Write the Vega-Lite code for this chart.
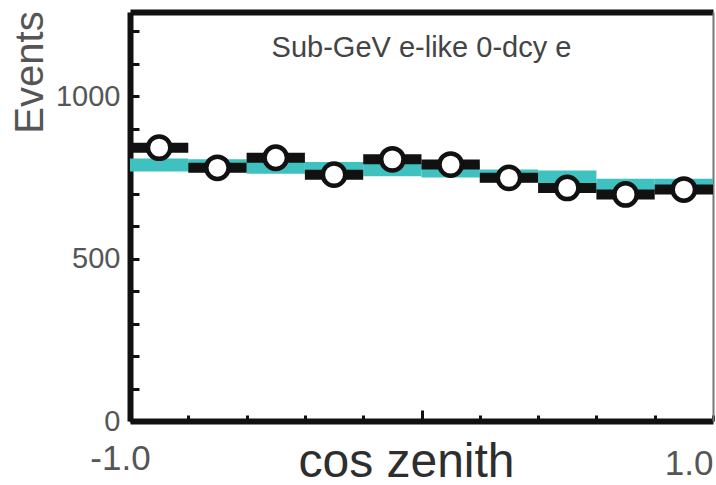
{
  "$schema": "https://vega.github.io/schema/vega-lite/v6.json",
  "width": 583,
  "height": 409,
  "autosize": {"type": "none"},
  "padding": {"left": 130, "top": 12, "right": 3, "bottom": 64},
  "background": "white",
  "config": {
    "view": {"stroke": null},
    "axis": {"grid": false, "labelFont": "Liberation Sans", "titleFont": "Liberation Sans", "titleFontWeight": "normal"},
    "text": {"font": "Liberation Sans"}
  },
  "datasets": {
    "bins": [
      {"lo": -1.0, "hi": -0.8, "c": -0.9, "data": 842, "mc": 789},
      {"lo": -0.8, "hi": -0.6, "c": -0.7, "data": 780, "mc": 786},
      {"lo": -0.6, "hi": -0.4, "c": -0.5, "data": 811, "mc": 782},
      {"lo": -0.4, "hi": -0.2, "c": -0.3, "data": 759, "mc": 778},
      {"lo": -0.2, "hi": 0.0, "c": -0.1, "data": 806, "mc": 774},
      {"lo": 0.0, "hi": 0.2, "c": 0.1, "data": 790, "mc": 770},
      {"lo": 0.2, "hi": 0.4, "c": 0.3, "data": 749, "mc": 755},
      {"lo": 0.4, "hi": 0.6, "c": 0.5, "data": 718, "mc": 752},
      {"lo": 0.6, "hi": 0.8, "c": 0.7, "data": 698, "mc": 726},
      {"lo": 0.8, "hi": 1.0, "c": 0.9, "data": 713, "mc": 726}
    ],
    "label": [{"x": 0, "y": 1120, "text": "Sub-GeV e-like 0-dcy e"}]
  },
  "layer": [
    {
      "data": {"name": "bins"},
      "mark": {"type": "rule", "color": "#3fc1c0", "strokeWidth": 13, "strokeCap": "butt"},
      "encoding": {
        "x": {"field": "lo", "type": "quantitative", "scale": {"domain": [-1, 1], "nice": false, "zero": false},
          "axis": {
            "orient": "bottom",
            "values": [-1, -0.8, -0.6, -0.4, -0.2, 0, 0.2, 0.4, 0.6, 0.8, 1],
            "labelExpr": "datum.value == -1 ? '-1.0' : (datum.value == 1 ? '1.0' : '')",
            "domainColor": "#111", "domainWidth": 6,
            "tickColor": "#111", "tickWidth": 3,
            "tickSize": {"condition": {"test": "datum.value == 0", "value": -11}, "value": -6},
            "labelFontSize": 35, "labelColor": "#555", "labelBaseline": "top",
            "labelAlign": {"condition": {"test": "datum.value == 1", "value": "right"}, "value": "center"},
            "labelOffset": {"condition": {"test": "datum.value == -1", "value": -10}, "value": 0},
            "labelPadding": {"condition": {"test": "datum.value == 1", "value": 31}, "value": 26},
            "labelOverlap": false, "labelFlush": false,
            "title": "cos zenith", "titleFontSize": 48, "titleColor": "#2e2e2e",
            "titleX": 276, "titleY": 55, "titleBaseline": "alphabetic", "titleAlign": "center", "titleAnchor": null
          }},
        "x2": {"field": "hi"},
        "y": {"field": "mc", "type": "quantitative", "scale": {"domain": [0, 1260], "nice": false},
          "axis": {
            "orient": "left",
            "values": [0, 100, 200, 300, 400, 500, 600, 700, 800, 900, 1000, 1100, 1200],
            "labelExpr": "datum.value % 500 == 0 ? '' + datum.value : ''",
            "domainColor": "#111", "domainWidth": 6,
            "tickColor": "#111", "tickWidth": 3,
            "tickSize": -9,
            "labelFontSize": 29, "labelColor": "#555", "labelPadding": 19,
            "labelOverlap": false, "labelFlush": false,
            "title": "Events", "titleFontSize": 40, "titleColor": "#555",
            "titleAngle": -90, "titleX": -88, "titleY": 60, "titleAlign": "center", "titleBaseline": "alphabetic", "titleAnchor": null
          }}
      }
    },
    {
      "data": {"name": "bins"},
      "mark": {"type": "rule", "color": "#111", "strokeWidth": 10, "strokeCap": "butt"},
      "encoding": {
        "x": {"field": "lo", "type": "quantitative",
          "axis": {"orient": "top", "ticks": false, "labels": false, "title": null, "domainColor": "#111", "domainWidth": 6}},
        "x2": {"field": "hi"},
        "y": {"field": "data", "type": "quantitative",
          "axis": {"orient": "right", "ticks": false, "labels": false, "title": null, "domainColor": "#777", "domainWidth": 2}}
      }
    },
    {
      "data": {"name": "bins"},
      "mark": {"type": "point", "shape": "circle", "filled": false, "fill": "white", "fillOpacity": 1, "stroke": "#111", "strokeWidth": 4.5, "size": 500, "opacity": 1},
      "encoding": {
        "x": {"field": "c", "type": "quantitative", "axis": null},
        "y": {"field": "data", "type": "quantitative", "axis": null}
      }
    },
    {
      "data": {"name": "label"},
      "mark": {"type": "text", "fontSize": 29, "color": "#444", "align": "center", "baseline": "alphabetic"},
      "encoding": {
        "x": {"field": "x", "type": "quantitative", "axis": null},
        "y": {"field": "y", "type": "quantitative", "axis": null},
        "text": {"field": "text"}
      }
    }
  ]
}
